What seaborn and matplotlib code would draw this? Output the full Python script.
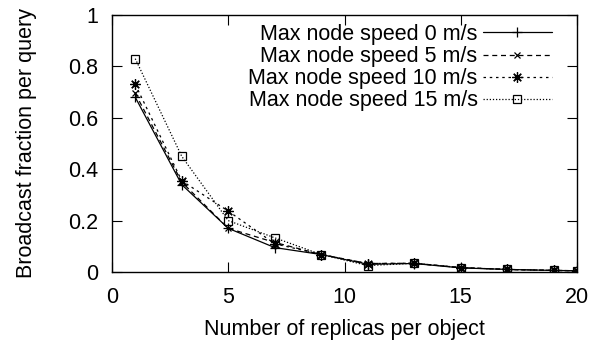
import pandas as pd
import matplotlib
matplotlib.use("Agg")
import matplotlib.pyplot as plt
import seaborn as sns

# ── Data ──────────────────────────────────────────────────────────────
replicas = [1, 3, 5, 7, 9, 11, 13, 15, 17, 19, 20]
speed_0 = [0.68, 0.34, 0.17, 0.095, 0.068, 0.030, 0.033, 0.016, 0.010, 0.006, 0.005]
speed_5 = [0.695, 0.35, 0.17, 0.115, 0.068, 0.033, 0.034, 0.017, 0.010, 0.006, 0.005]
speed_10 = [0.73, 0.355, 0.237, 0.11, 0.068, 0.033, 0.034, 0.017, 0.010, 0.006, 0.005]
speed_15 = [0.83, 0.45, 0.20, 0.133, 0.068, 0.025, 0.034, 0.017, 0.010, 0.006, 0.005]
labels = ["Max node speed 0 m/s", "Max node speed 5 m/s",
          "Max node speed 10 m/s", "Max node speed 15 m/s"]
x_ticks = [0, 5, 10, 15, 20]
y_ticks = [0, 0.2, 0.4, 0.6, 0.8, 1]
y_tick_labels = ["0", "0.2", "0.4", "0.6", "0.8", "1"]

# ── Style ─────────────────────────────────────────────────────────────
sns.set_theme(style="ticks")
plt.rcParams["font.family"] = ["Liberation Sans", "DejaVu Sans"]
plt.rcParams["text.color"] = "black"
plt.rcParams["axes.labelcolor"] = "black"
FS = 15.5

STYLES = [
    dict(linestyle="-", marker="+", markersize=7),
    dict(linestyle=(0, (4, 3)), marker="x", markersize=5),
    dict(linestyle=(0, (2, 3)), marker=(8, 2, 0), markersize=7.5),
    dict(linestyle=(0, (1, 1.5)), marker="s", markersize=6, fillstyle="none"),
]

fig = plt.figure(figsize=(6.04, 3.44), dpi=100)
ax = fig.add_axes([112 / 604, 1 - 272 / 344, 465 / 604, 257 / 344])

for series, label, st in zip([speed_0, speed_5, speed_10, speed_15], labels, STYLES):
    df = pd.DataFrame({"x": replicas, "y": series})
    sns.lineplot(data=df, x="x", y="y", ax=ax, color="black", linewidth=0.9,
                 markeredgewidth=0.9, markeredgecolor="black", label=label, **st)

ax.set_xlim(0, 20)
ax.set_ylim(0, 1)
ax.set_xticks(x_ticks)
ax.set_yticks(y_ticks)
ax.set_yticklabels(y_tick_labels)
ax.tick_params(direction="in", length=7, width=0.8, top=True, right=True,
               labelsize=FS, colors="black")
ax.tick_params(axis="x", pad=11)
ax.tick_params(axis="y", pad=10)
for sp in ax.spines.values():
    sp.set_linewidth(1.0)
    sp.set_color("black")

ax.set_xlabel("Number of replicas per object", fontsize=FS, labelpad=8)
ax.set_ylabel("Broadcast fraction per query", fontsize=FS, labelpad=22)

ax.legend(loc="upper right", bbox_to_anchor=(0.946, 0.965), frameon=False,
          markerfirst=False, fontsize=FS, handlelength=3.2, handletextpad=0.25,
          labelspacing=0.05, borderaxespad=0, borderpad=0, alignment="right")
leg = ax.get_legend()
for t in leg.get_texts():
    t.set_ha("right")
leg._legend_box.align = "right"

fig.savefig("out.png", dpi=100)
